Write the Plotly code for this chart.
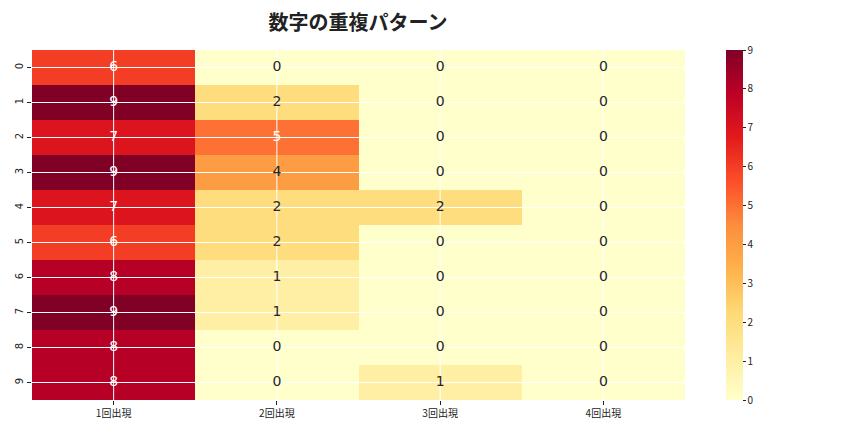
import plotly.graph_objects as go

# 数字の重複パターン
rows = [str(i) for i in range(10)]
cols = ['1回出現', '2回出現', '3回出現', '4回出現']
once = [6, 9, 7, 9, 7, 6, 8, 9, 8, 8]
twice = [0, 2, 5, 4, 2, 2, 1, 1, 0, 0]
three = [0, 0, 0, 0, 2, 0, 0, 0, 0, 1]
four = [0, 0, 0, 0, 0, 0, 0, 0, 0, 0]

z = [[once[i], twice[i], three[i], four[i]] for i in range(len(rows))]

ylorrd = ['#ffffcc', '#ffeda0', '#fed976', '#feb24c', '#fd8d3c',
          '#fc4e2a', '#e31a1c', '#bd0026', '#800026']
cscale = [[i / (len(ylorrd) - 1), c] for i, c in enumerate(ylorrd)]

xs = list(range(len(cols)))
ys = list(range(len(rows)))

fig = go.Figure()
fig.add_trace(go.Heatmap(
    z=z, x=xs, y=ys, colorscale=cscale, zmin=0, zmax=9,
    xgap=0, ygap=0, hoverinfo='z',
    colorbar=dict(x=1.063, xanchor='left', y=0.5, yanchor='middle', len=1.0,
                  xpad=0, ypad=0,
                  thickness=17, outlinewidth=0, ticks='outside', ticklen=3,
                  tickvals=list(range(10)), tickfont=dict(size=10, color='#222'),
                  tickcolor='#222')
))

# white grid lines over the cells (matplotlib style)
gx, gy = [], []
for i in ys:
    gx += [-0.5, len(cols) - 0.5, None]
    gy += [i, i, None]
for j in xs:
    gx += [j, j, None]
    gy += [-0.5, len(rows) - 0.5, None]
fig.add_trace(go.Scatter(x=gx, y=gy, mode='lines', line=dict(color='white', width=1),
                         hoverinfo='skip', showlegend=False))

# annotation text
tx, ty, tt, tc = [], [], [], []
for i in ys:
    for j in xs:
        v = z[i][j]
        tx.append(j)
        ty.append(i)
        tt.append(str(v))
        tc.append('white' if v >= 5 else '#262626')
fig.add_trace(go.Scatter(x=tx, y=ty, mode='text', text=tt,
                         textfont=dict(size=14, color=tc, family='DejaVu Sans'),
                         hoverinfo='skip', showlegend=False))

# page body has an 8px margin, so shift everything up/left by 8
fig.update_layout(
    width=864, height=432,
    margin=dict(l=24, r=187, t=42, b=40),
    paper_bgcolor='white', plot_bgcolor='white',
    font=dict(family='Noto Sans CJK JP, DejaVu Sans', color='#222'),
    title=dict(text='<b>数字の重複パターン</b>', x=0.405, xanchor='center', y=0.965,
               yanchor='middle', font=dict(size=20, color='#222')),
    showlegend=False,
)
fig.update_xaxes(range=[-0.5, len(cols) - 0.5], tickvals=xs, ticktext=cols,
                 showgrid=False, zeroline=False, ticks='outside', ticklen=4,
                 tickcolor='#222', tickfont=dict(size=10), automargin=False)
fig.update_yaxes(range=[len(rows) - 0.5, -0.5], tickvals=ys, ticktext=rows,
                 showgrid=False, zeroline=False, ticks='outside', ticklen=4,
                 tickcolor='#222', tickangle=-90, automargin=False,
                 tickfont=dict(size=10, family='DejaVu Sans'))

fig.write_html('out.html')
